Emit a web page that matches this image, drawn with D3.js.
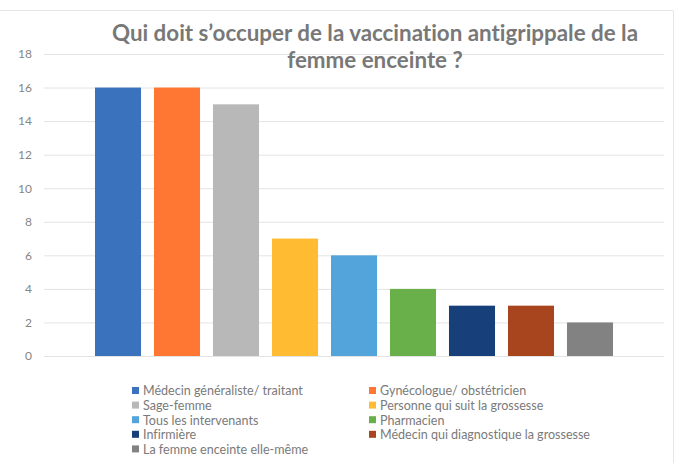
<!DOCTYPE html>
<html>
<head>
<meta charset="utf-8">
<script src="https://cdn.jsdelivr.net/npm/d3@7"></script>
<style>
  html, body { margin: 0; padding: 0; background: #fff; }
  svg { display: block; }
  text { font-variant-ligatures: none; font-feature-settings: "liga" 0; }
</style>
</head>
<body>
<svg id="chart" width="676" height="463"></svg>
<script>
const categories = [
  "Médecin généraliste/ traitant",
  "Gynécologue/ obstétricien",
  "Sage-femme",
  "Personne qui suit la grossesse",
  "Tous les intervenants",
  "Pharmacien",
  "Infirmière",
  "Médecin qui diagnostique la grossesse",
  "La femme enceinte elle-même"
];
const values = [16, 16, 15, 7, 6, 4, 3, 3, 2];
const colors = ["#3a72be", "#ff7733", "#b8b8b8", "#ffbc33", "#52a4da", "#6ab04a", "#173f7a", "#a8451e", "#828282"];
const yTicks = [0, 2, 4, 6, 8, 10, 12, 14, 16, 18];
const titleLines = ["Qui doit s\u2019occuper de la vaccination antigrippale de la", "femme enceinte ?"];

const svg = d3.select("#chart");
const FONT = "Lato, 'Open Sans', sans-serif";

// frame
svg.append("path")
  .attr("d", "M0,10.5 H673.5 V463")
  .attr("fill", "none").attr("stroke", "#e6e6e6").attr("stroke-width", 1);

const y = d3.scaleLinear().domain([0, 18]).range([356, 54]);
const x = d3.scaleBand().domain(categories).range([88.5, 619.5]).paddingInner(0.22).paddingOuter(0.11);

// gridlines
const yAxis = d3.axisLeft(y).tickValues(yTicks).tickSize(-620).tickPadding(12);
const gAxis = svg.append("g").attr("transform", "translate(44,0)").call(yAxis);
gAxis.select(".domain").remove();
gAxis.selectAll(".tick line").attr("stroke", "#e3e3e3").attr("stroke-width", 1);
gAxis.selectAll(".tick text").attr("fill", "#868686").style("font-family", FONT).style("font-size", "12px");

// bars
svg.append("g").selectAll("rect").data(values).join("rect")
  .attr("x", (d, i) => x(categories[i]))
  .attr("width", x.bandwidth())
  .attr("y", d => y(d))
  .attr("height", d => y(0) - y(d))
  .attr("fill", (d, i) => colors[i]);

// title
function fitText(sel, target) {
  const node = sel.node();
  let fs = parseFloat(sel.style("font-size"));
  const w = node.getComputedTextLength();
  if (w > 0) sel.style("font-size", (fs * target / w).toFixed(2) + "px");
}
const t1 = svg.append("text").attr("x", 375).attr("y", 41).attr("text-anchor", "middle")
  .attr("fill", "#787878").style("font-family", FONT).style("font-weight", "bold").style("font-size", "20px")
  .text(titleLines[0]);
fitText(t1, 526);
const tfs = t1.style("font-size");
svg.append("text").attr("x", 375).attr("y", 68).attr("text-anchor", "middle")
  .attr("fill", "#787878").style("font-family", FONT).style("font-weight", "bold").style("font-size", tfs)
  .text(titleLines[1]);

// legend
const legX = [132, 369];
const legY0 = 391, legDy = 14.6;
const leg = svg.append("g");
let legFs = null;
categories.forEach((c, i) => {
  const col = i % 2, row = Math.floor(i / 2);
  const g = leg.append("g").attr("transform", `translate(${legX[col]},${legY0 + row * legDy})`);
  g.append("rect").attr("x", 0).attr("y", -4).attr("width", 7).attr("height", 7).attr("fill", colors[i]);
  const t = g.append("text").attr("x", 11).attr("y", 0).attr("dy", "0.35em")
    .attr("fill", "#7a7a7a").style("font-family", FONT).style("font-size", "12px").text(c);
  if (i === 0) { fitText(t, 160); legFs = t.style("font-size"); }
});
leg.selectAll("text").style("font-size", legFs);
</script>
</body>
</html>
